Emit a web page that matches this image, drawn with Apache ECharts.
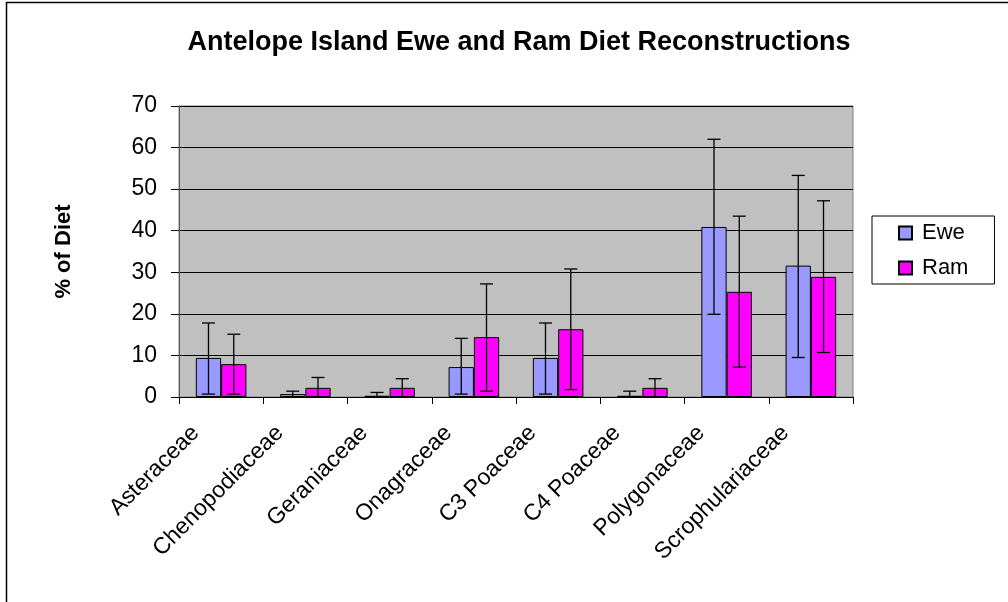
<!DOCTYPE html>
<html>
<head>
<meta charset="utf-8">
<script src="https://cdn.jsdelivr.net/npm/echarts@6/dist/echarts.min.js"></script>
<style>
html,body{margin:0;padding:0;background:#fff;}
#chart{width:1008px;height:602px;}
</style>
</head>
<body>
<div id="chart"></div>
<script>
const categories = ['Asteraceae','Chenopodiaceae','Geraniaceae','Onagraceae','C3 Poaceae','C4 Poaceae','Polygonaceae','Scrophulariaceae'];
const ewe     = [9.4, 0.7, 0.3, 7.2, 9.4, 0.3, 40.9, 31.6];
const ram     = [7.9, 2.2, 2.2, 14.4, 16.3, 2.2, 25.3, 28.9];
const eweLow  = [0.7, 0.0, 0.0, 0.7, 0.7, 0.0, 19.9, 9.5];
const eweHigh = [17.8, 1.4, 1.1, 14.1, 17.8, 1.4, 62.0, 53.3];
const ramLow  = [0.7, 0.0, 0.0, 1.4, 1.8, 0.0, 7.2, 10.7];
const ramHigh = [15.1, 4.7, 4.4, 27.2, 30.8, 4.4, 43.5, 47.2];
const yTicks = [0, 10, 20, 30, 40, 50, 60, 70];

const FONT = 'Arial, "Liberation Sans", sans-serif';

function errRender(offsetFrac) {
  return function (params, api) {
    const i = api.value(0);
    const lo = api.coord([i, api.value(1)]);
    const hi = api.coord([i, api.value(2)]);
    const band = api.size([1, 0])[0];
    const x = lo[0] + offsetFrac * band;
    const cap = 6.5;
    const style = { stroke: '#000', lineWidth: 1.3 };
    return {
      type: 'group',
      children: [
        { type: 'line', shape: { x1: x, y1: lo[1], x2: x, y2: hi[1] }, style: style },
        { type: 'line', shape: { x1: x - cap, y1: hi[1], x2: x + cap, y2: hi[1] }, style: style },
        { type: 'line', shape: { x1: x - cap, y1: lo[1], x2: x + cap, y2: lo[1] }, style: style }
      ]
    };
  };
}

const chart = echarts.init(document.getElementById('chart'), null, { renderer: 'canvas' });
chart.setOption({
  animation: false,
  backgroundColor: '#fff',
  textStyle: { fontFamily: FONT },
  title: {
    text: 'Antelope Island Ewe and Ram Diet Reconstructions',
    left: 514, top: 24, textAlign: 'center',
    textStyle: { fontFamily: FONT, fontWeight: 'bold', fontSize: 27, color: '#000' }
  },
  graphic: [{
    type: 'rect', z: 100, silent: true,
    shape: { x: 6.5, y: 2.5, width: 1010, height: 620 },
    style: { fill: 'none', stroke: '#000', lineWidth: 1.5 }
  }],
  legend: {
    data: ['Ewe', 'Ram'],
    orient: 'vertical',
    left: 872, top: 216,
    padding: [6, 26, 5, 26],
    itemGap: 13,
    itemWidth: 13, itemHeight: 13,
    borderColor: '#000', borderWidth: 1,
    icon: 'rect',
    textStyle: { fontFamily: FONT, fontSize: 22, color: '#000', lineHeight: 22, padding: [0, 0, 0, 5] }
  },
  grid: { left: 179, right: 155, top: 106, bottom: 205, show: true, backgroundColor: '#C0C0C0', borderColor: '#808080', borderWidth: 1, outerBoundsMode: 'none' },
  xAxis: {
    type: 'category',
    data: categories,
    axisLine: { lineStyle: { color: '#000', width: 1 } },
    axisTick: { show: true, inside: false, length: 7, lineStyle: { color: '#000' } },
    axisLabel: { rotate: 45, fontFamily: FONT, fontSize: 23, color: '#000', margin: 7, padding: [0, 36, 0, 0], interval: 0 },
    splitLine: { show: false }
  },
  yAxis: {
    type: 'value',
    min: yTicks[0], max: yTicks[yTicks.length - 1], interval: 10,
    name: '% of Diet',
    nameLocation: 'middle',
    nameGap: 104,
    nameTextStyle: { fontFamily: FONT, fontWeight: 'bold', fontSize: 22, color: '#000' },
    axisLine: { show: true, lineStyle: { color: '#555', width: 1 } },
    axisTick: { show: true, inside: false, length: 8, lineStyle: { color: '#000' } },
    axisLabel: { fontFamily: FONT, fontSize: 23, color: '#000', margin: 22 },
    splitLine: { show: true, lineStyle: { color: '#000', width: 1 } }
  },
  series: [
    { name: 'Ewe', type: 'bar', data: ewe, barGap: '0%', barCategoryGap: '40%',
      itemStyle: { color: '#9999FF', borderColor: '#000', borderWidth: 1 } },
    { name: 'Ram', type: 'bar', data: ram, barGap: '0%', barCategoryGap: '40%',
      itemStyle: { color: '#FF00FF', borderColor: '#000', borderWidth: 1 } },
    { name: 'EweErr', type: 'custom', z: 10, renderItem: errRender(-0.15),
      data: categories.map((c, i) => [i, eweLow[i], eweHigh[i]]), encode: { x: 0, y: [1, 2] } },
    { name: 'RamErr', type: 'custom', z: 10, renderItem: errRender(0.15),
      data: categories.map((c, i) => [i, ramLow[i], ramHigh[i]]), encode: { x: 0, y: [1, 2] } }
  ]
});
</script>
</body>
</html>
